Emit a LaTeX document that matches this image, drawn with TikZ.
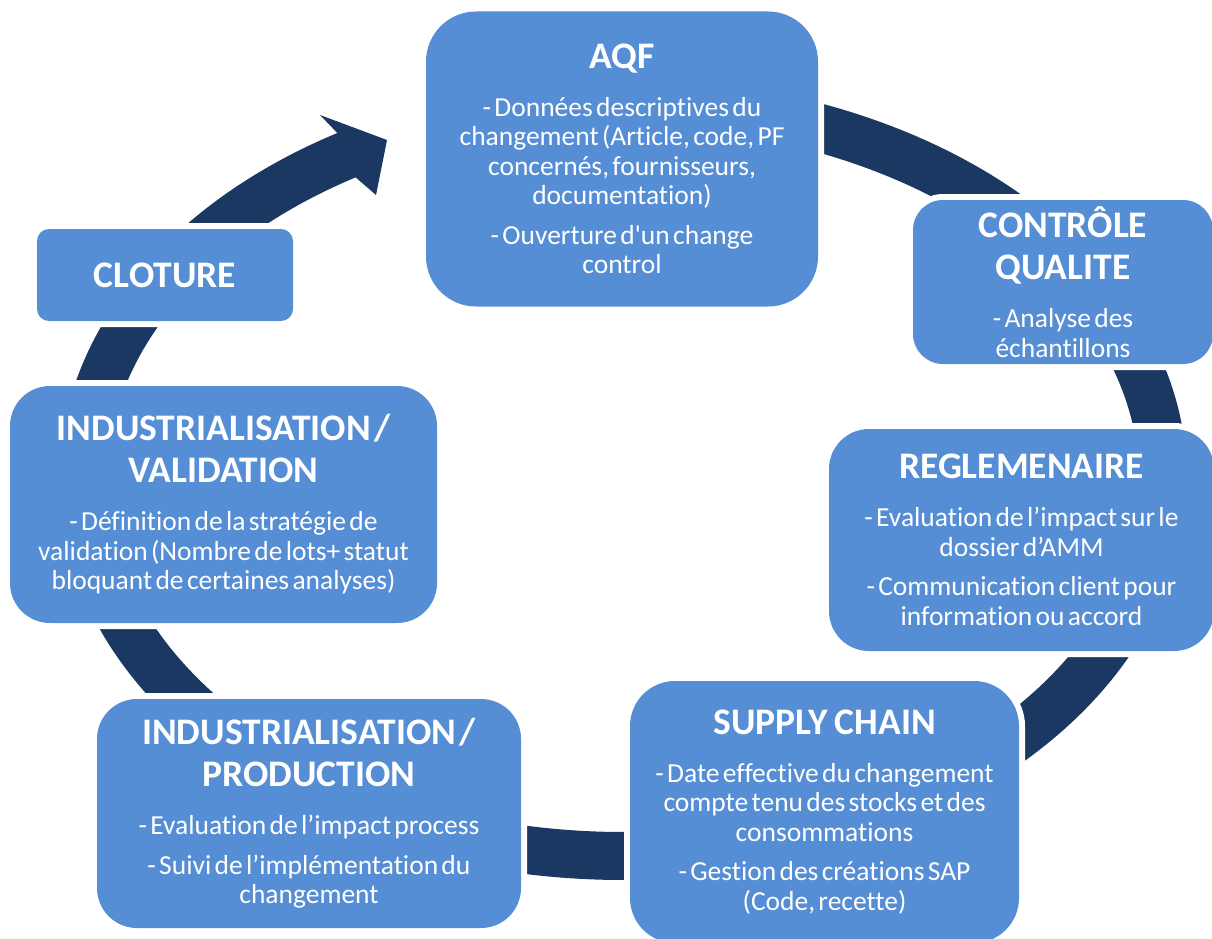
\documentclass[tikz,border=0pt]{standalone}
\usepackage{fontspec}
\setmainfont{Carlito}[Ligatures={TeXOff,CommonOff}]
\definecolor{boxblue}{HTML}{558ED5}
\definecolor{ringnavy}{HTML}{1B3862}
\newcommand{\ttl}[1]{{\fontsize{37.5}{42}\selectfont\bfseries #1\par}}
\newcommand{\bdy}[1]{\vspace{18.5pt}{\fontsize{27.5}{29.5}\selectfont #1\par}}
\newcommand{\igap}{\par\vspace{10pt}}
\begin{document}
\begin{tikzpicture}[x=1pt,y=-1pt,
  stagebox/.style={fill=boxblue, text=white, align=center, inner sep=0pt,
     preaction={draw=white, line width=12pt}},
  ringline/.style={draw=ringnavy, line width=48pt},
  ringhead/.style={fill=ringnavy}]
\useasboundingbox (0,0) rectangle (1212,939);
% ring
\draw[ringline] plot[domain=-100:239.6, samples=300, smooth] ({623+540*cos(\x)},{479+377*sin(\x)});
% arrow head
\coordinate (hout) at (337.3,133.0);
\coordinate (hbtop) at (320,115);
\coordinate (htip) at (387,140);
\coordinate (hbbot) at (376,195);
\coordinate (hin) at (355.7,177.4);
\fill[ringhead] (hout) -- (hbtop) -- (htip) -- (hbbot) -- (hin) -- cycle;
% boxes
\node[stagebox, minimum width=392pt, minimum height=295pt, text width=380pt, rounded corners=50pt] (aqf) at (622,159)
 {\ttl{AQF}\bdy{- Données descriptives du\\ changement (Article, code, PF\\ concernés, fournisseurs,\\ documentation)\igap - Ouverture d'un change\\ control}};
\node[stagebox, minimum width=300pt, minimum height=164pt, text width=290pt, rounded corners=30pt] (cq) at (1063,282)
 {\ttl{CONTRÔLE\\ QUALITE}\bdy{- Analyse des\\ échantillons}};
\node[stagebox, minimum width=385pt, minimum height=222pt, text width=375pt, rounded corners=40pt] (reg) at (1021.5,540)
 {\ttl{REGLEMENAIRE}\bdy{- Evaluation de l’impact sur le\\ dossier d’AMM\igap - Communication client pour\\ information ou accord}};
\node[stagebox, minimum width=389pt, minimum height=262pt, text width=379pt, rounded corners=45pt] (sc) at (824.5,812)
 {\ttl{SUPPLY\kern4pt{} CHAIN}\bdy{- Date effective du changement\\ compte tenu des stocks et des\\ consommations\igap - Gestion des créations SAP\\ (Code, recette)}};
\node[stagebox, minimum width=424pt, minimum height=229pt, text width=414pt, rounded corners=40pt] (prod) at (309,813.5)
 {\ttl{INDUSTRIALISATION /\\ PRODUCTION}\bdy{- Evaluation de l’impact process\igap - Suivi de l’implémentation du\\ changement}};
\node[stagebox, minimum width=427pt, minimum height=237pt, text width=417pt, rounded corners=40pt] (valid) at (223.5,504.5)
 {\ttl{INDUSTRIALISATION /\\ VALIDATION}\bdy{- Définition de la stratégie de\\ validation (Nombre de lots+ statut\\ bloquant de certaines analyses)}};
\node[stagebox, minimum width=256pt, minimum height=92pt, text width=246pt, rounded corners=12pt] (clot) at (165,275)
 {\ttl{CLOTURE}};
\end{tikzpicture}
\end{document}
